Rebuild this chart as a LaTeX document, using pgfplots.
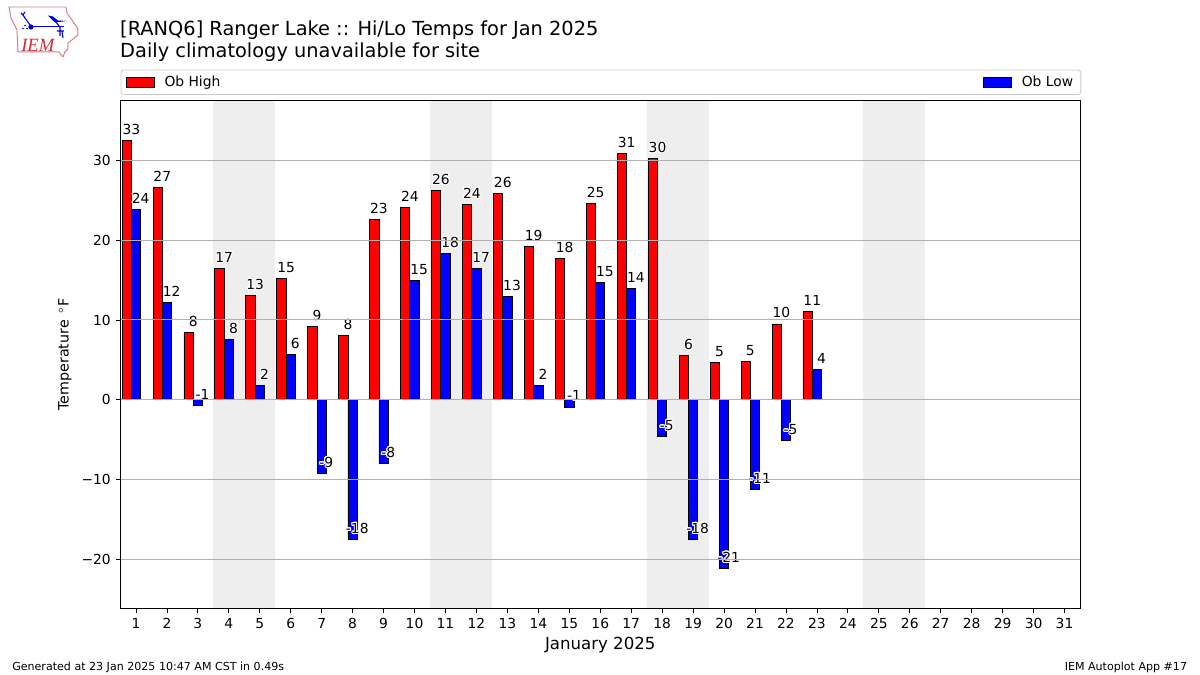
\documentclass[border=0pt]{standalone}
\usepackage{fontspec}
\setmainfont{DejaVu Sans}
\newfontfamily\logofont{Liberation Serif}[ItalicFont=* Italic]
\usepackage{pgfplots}
\usepackage{pgfplotstable}
\usepackage[copies]{contour}
\contourlength{0.7pt}
\contournumber{24}
\pgfplotsset{compat=1.18}
\definecolor{gridc}{HTML}{B0B0B0}
\definecolor{shade}{HTML}{EEEEEE}
\definecolor{logored}{HTML}{D8283A}
\definecolor{logopink}{HTML}{E07885}
\definecolor{legendedge}{HTML}{CCCCCC}
\pgfplotstableread{
day high hl low ll
1 32.5 33 23.9 24
2 26.6 27 12.2 12
3 8.4 8 -0.7 -1
4 16.5 17 7.6 8
5 13.1 13 1.8 2
6 15.2 15 5.7 6
7 9.2 9 -9.2 -9
8 8.1 8 -17.5 -18
9 22.6 23 -8.0 -8
10 24.1 24 15.0 15
11 26.2 26 18.3 18
12 24.5 24 16.5 17
13 25.9 26 13.0 13
14 19.2 19 1.8 2
15 17.7 18 -0.9 -1
16 24.6 25 14.7 15
17 30.9 31 14.0 14
18 30.2 30 -4.6 -5
19 5.6 6 -17.5 -18
20 4.7 5 -21.1 -21
21 4.8 5 -11.2 -11
22 9.5 10 -5.1 -5
23 11.1 11 3.8 4
}\tempdata
\begin{document}
\begin{tikzpicture}
\path (0,0) rectangle (12in,6.75in);
\begin{axis}[
  at={(1.205in,0.665in)}, anchor=south west,
  scale only axis, width=9.595in, height=5.08in,
  xmin=0.5, xmax=31.5, ymin=-26.15, ymax=37.5,
  set layers=axis on top,
  xtick={1,...,31},
  xticklabels={1,2,3,4,5,6,7,8,9,10,11,12,13,14,15,16,17,18,19,20,21,22,23,24,25,26,27,28,29,30,31},
  ytick={-20,-10,0,10,20,30},
  yticklabels={−20,−10,0,10,20,30},
  tick align=outside, tick pos=left,
  major tick length=3.5pt,
  every tick/.style={black,line width=0.6pt},
  axis line style={black,line width=0.7pt},
  ymajorgrids, grid style={gridc,line width=0.7pt},
  tick label style={font=\fontsize{10}{12}\selectfont},
  xlabel={January 2025},
  xlabel style={font=\fontsize{12}{14}\selectfont, at={(axis description cs:0.5,0)}, anchor=base, yshift=-0.405in},
  ylabel={Temperature\, $^\circ$F},
  ylabel style={font=\fontsize{10.3}{12}\selectfont, at={(axis description cs:0,0.5)}, anchor=base, yshift=0.52in},
  legend columns=2,
  legend cell align=left,
  legend style={at={(0,1)}, anchor=south west, yshift=0.055in, draw=legendedge, rounded corners=2pt, line width=0.6pt,
    font=\fontsize{10}{12}\selectfont, inner xsep=0.05in, inner ysep=0.032in,
    /tikz/every odd column/.append style={column sep=0.07in},
    /tikz/every even column/.append style={column sep=7.6in}},
]
\addplot[fill=shade,draw=none,forget plot] coordinates {(3.5,-26.15)(5.5,-26.15)(5.5,37.5)(3.5,37.5)} --cycle;
\addplot[fill=shade,draw=none,forget plot] coordinates {(10.5,-26.15)(12.5,-26.15)(12.5,37.5)(10.5,37.5)} --cycle;
\addplot[fill=shade,draw=none,forget plot] coordinates {(17.5,-26.15)(19.5,-26.15)(19.5,37.5)(17.5,37.5)} --cycle;
\addplot[fill=shade,draw=none,forget plot] coordinates {(24.5,-26.15)(26.5,-26.15)(26.5,37.5)(24.5,37.5)} --cycle;
\addplot[ybar,bar width=0.3,bar shift=-0.3,fill=red,draw=black,line width=0.6pt,
  legend image code/.code={\draw[sharp corners,fill=red,draw=black,line width=0.6pt] (0,-0.048in) rectangle (0.28in,0.048in);}]
  table[x=day,y=high] {\tempdata};
\addlegendentry{Ob High}
\addplot[ybar,bar width=0.3,bar shift=0,fill=blue,draw=black,line width=0.6pt,
  legend image code/.code={\draw[sharp corners,fill=blue,draw=black,line width=0.6pt] (0,-0.048in) rectangle (0.28in,0.048in);}]
  table[x=day,y=low] {\tempdata};
\addlegendentry{Ob Low}
\addplot[draw=none,no markers,forget plot,on layer=axis foreground,
  point meta=explicit symbolic,
  nodes near coords={\contour{white}{\pgfplotspointmeta}},
  nodes near coords style={anchor=base,inner sep=0pt,yshift=0.06in,font=\fontsize{10}{12}\selectfont}]
  table[x expr=\thisrow{day}-0.15,y=high,meta=hl] {\tempdata};
\addplot[draw=none,no markers,forget plot,on layer=axis foreground,
  point meta=explicit symbolic,
  nodes near coords={\contour{white}{\pgfplotspointmeta}},
  nodes near coords style={anchor=base,inner sep=0pt,yshift=0.06in,font=\fontsize{10}{12}\selectfont}]
  table[x expr=\thisrow{day}+0.15,y=low,meta=ll] {\tempdata};
\end{axis}
\begin{scope}[x=0.01in,y=-0.01in,yshift=6.75in]
  % titles and footer
  \node[anchor=base west,inner sep=0pt,font=\fontsize{14}{16}\selectfont] at (120,36) {[RANQ6] Ranger Lake :: Hi/Lo Temps for Jan 2025};
  \node[anchor=base west,inner sep=0pt,font=\fontsize{14}{16}\selectfont] at (120,58) {Daily climatology unavailable for site};
  \node[anchor=base west,inner sep=0pt,font=\fontsize{8}{10}\selectfont] at (12,670.5) {Generated at 23 Jan 2025 10:47 AM CST in 0.49s};
  \node[anchor=base east,inner sep=0pt,font=\fontsize{8}{10}\selectfont] at (1188,670.5) {IEM Autoplot App \#17};
  % logo
  \draw[logopink,line width=0.7pt,line join=round] (9,7)--(66,7)--(67,13)--(72,20)--(78,29)--(78,35)--(72,40)--(68,43)--(68,49)--(65,52)--(63,57)--(59,52)--(18,52)--(17,30)--(11,18)--cycle;
  \draw[blue!90!black,line width=1pt] (31,26.5)--(64,26.5);
  \fill[blue!90!black] (31,27) circle (2.6);
  \draw[blue!90!black,line width=0.8pt] (30,25)--(23,15)--(21,13) (23,15)--(25,12);
  \fill[blue!90!black] (48,15.5)--(53,16.5)--(58,20.5)--(67,21)--(55,22.5)--cycle;
  \draw[blue!90!black,line width=0.8pt] (55,21)--(60,27)--(60,36) (57,31)--(64,31) (62,31)--(63,38);
  \fill[blue!90!black] (23,28.5) circle (0.9) (27,28.5) circle (0.9) (25,25.5) circle (0.9);
  \node[anchor=base west,inner sep=0pt,text=logored,font=\logofont\itshape\fontsize{13.5}{15}\selectfont] at (21,52) {IEM};
\end{scope}
\end{tikzpicture}
\end{document}
